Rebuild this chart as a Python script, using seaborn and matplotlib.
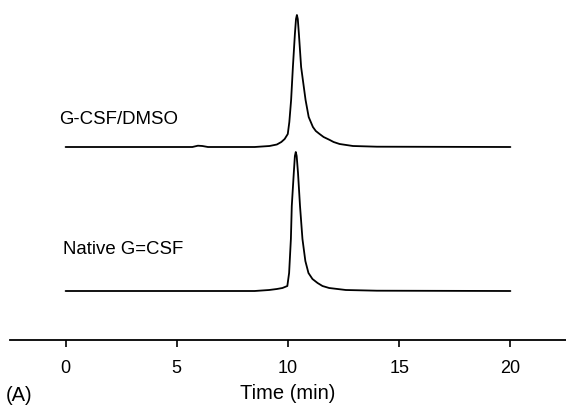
import matplotlib
matplotlib.use('Agg')
import matplotlib.pyplot as plt
import seaborn as sns
import pandas as pd

# chromatogram traces (time in min, signal in arbitrary units)
dmso_time = [0.0, 5.7, 5.95, 6.15, 6.4, 8.5, 9.17, 9.5, 9.70, 9.85, 9.99, 10.06, 10.14, 10.22,
             10.31, 10.36, 10.4, 10.44, 10.49, 10.59, 10.79, 10.93, 11.12, 11.25, 11.42,
             11.6, 11.88, 12.05, 12.32, 12.92, 14.0, 20.0]
dmso_signal = [0, 0, 1.3, 1.0, 0, 0, 1, 2.5, 5, 8, 13, 25, 47, 80,
               113, 128, 132, 128, 113, 80, 47, 30, 20, 16, 13,
               10, 7, 5, 3, 1, 0.3, 0]

native_time = [0.0, 8.5, 9.15, 9.5, 9.75, 9.97, 10.05, 10.13, 10.17, 10.26, 10.31, 10.35,
               10.39, 10.45, 10.54, 10.65, 10.78, 10.92, 11.1, 11.33, 11.55, 11.85,
               12.6, 14.0, 20.0]
native_signal = [0, 0, 1, 2, 3, 5, 18, 52, 85, 118, 135, 139,
                 135, 118, 85, 52, 30, 18, 12, 8, 5, 3,
                 1, 0.3, 0]

labels = ['G-CSF/DMSO', 'Native G=CSF']
offsets = [193, 49]

sns.set_style('white')
plt.rcParams['font.family'] = ['Liberation Sans', 'DejaVu Sans']
plt.rcParams['text.color'] = 'black'
plt.rcParams['xtick.color'] = 'black'
plt.rcParams['axes.labelcolor'] = 'black'

fig = plt.figure(figsize=(5.66, 4.10), dpi=100)
ax = fig.add_axes([10 / 566, 69 / 410, 556 / 566, 341 / 410])

traces = [(dmso_time, dmso_signal), (native_time, native_signal)]
for (t, s), off in zip(traces, offsets):
    df = pd.DataFrame({'t': t, 'y': [v + off for v in s]})
    sns.lineplot(data=df, x='t', y='y', ax=ax, color='black', linewidth=1.3)

ax.text(-0.3, 221, labels[0], fontsize=13.4, va='center', ha='left')
ax.text(-0.1, 91, labels[1], fontsize=13.4, va='center', ha='left')

ax.set_xlim(-2.5, 22.5)
ax.set_ylim(0, 341)
ax.set_xticks([0, 5, 10, 15, 20])
ax.set_yticks([])
ax.set_ylabel('')
ax.set_xlabel('Time (min)', fontsize=14.5, labelpad=5)
ax.tick_params(axis='x', direction='out', length=5, width=1.2, labelsize=13, pad=9,
               bottom=True)
for side in ['top', 'right', 'left']:
    ax.spines[side].set_visible(False)
ax.spines['bottom'].set_linewidth(1.3)
ax.spines['bottom'].set_color('black')

fig.text(6 / 566, 1 - 396 / 410, '(A)', fontsize=14.5, va='center', ha='left')

fig.savefig('out.png', dpi=100)
